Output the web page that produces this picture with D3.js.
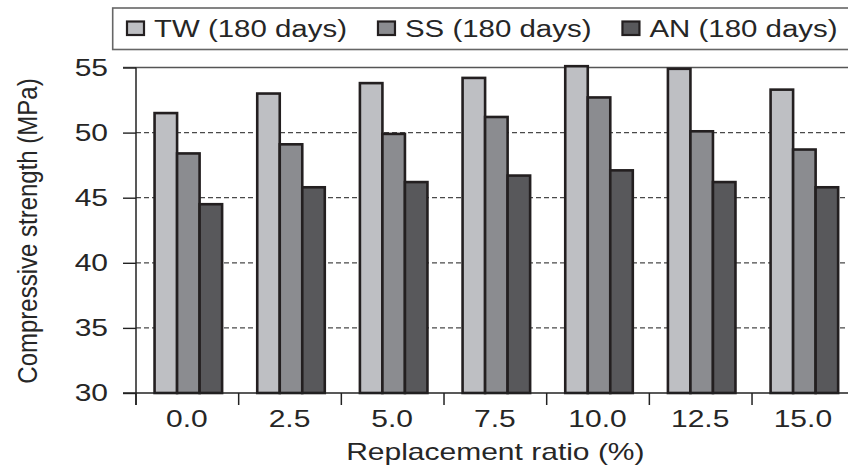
<!DOCTYPE html>
<html>
<head>
<meta charset="utf-8">
<script src="https://cdn.jsdelivr.net/npm/d3@7"></script>
<style>
  html, body { margin: 0; padding: 0; background: #fff; }
  svg { display: block; }
  text { font-family: "Liberation Sans", Arial, Helvetica, sans-serif; fill: #262626; }
</style>
</head>
<body>
<svg id="chart" width="848" height="468"></svg>
<script>
// ---- data ----
const categories = ["0.0", "2.5", "5.0", "7.5", "10.0", "12.5", "15.0"];
const seriesNames = ["TW (180 days)", "SS (180 days)", "AN (180 days)"];
const twValues = [51.5, 53.0, 53.8, 54.2, 55.1, 54.9, 53.3];
const ssValues = [48.4, 49.1, 49.9, 51.2, 52.7, 50.1, 48.7];
const anValues = [44.5, 45.8, 46.2, 46.7, 47.1, 46.2, 45.8];
const yTickValues = [30, 35, 40, 45, 50, 55];
const xTitle = "Replacement ratio (%)";
const yTitle = "Compressive strength (MPa)";

// ---- layout / style ----
const W = 848, H = 468;
const plot = { left: 136, right: 854.7, top: 67.5, bottom: 393 };
const colors = ["#bebfc3", "#8b8c90", "#58585b"];
const barStroke = "#231f20";
const SX = 1.25; // horizontal stretch of the original artwork's text

const svg = d3.select("#chart");

const series = [twValues, ssValues, anValues];
const rows = categories.map((c, i) => ({ cat: c, vals: series.map((s, k) => ({ key: seriesNames[k], value: s[i], k })) }));

const x = d3.scaleBand().domain(categories).range([plot.left, plot.right]).paddingInner(0).paddingOuter(0);
const xs = d3.scaleBand().domain(seriesNames).range([0, x.bandwidth()]).paddingInner(0).paddingOuter(0.78);
const y = d3.scaleLinear().domain([30, 55]).range([plot.bottom, plot.top]);

function stretchedText(sel, px, py, sx) {
  return sel.attr("x", 0).attr("y", 0).attr("transform", `translate(${px},${py}) scale(${sx},1)`);
}

// gridlines (dashed)
svg.append("g").selectAll("line")
  .data(yTickValues.filter(v => v > 30 && v < 55))
  .join("line")
  .attr("x1", plot.left).attr("x2", W)
  .attr("y1", d => y(d)).attr("y2", d => y(d))
  .attr("stroke", "#4a4a4a").attr("stroke-width", 1.2)
  .attr("stroke-dasharray", "5,3");

// top frame line at 55
svg.append("line")
  .attr("x1", plot.left - 13).attr("x2", W)
  .attr("y1", y(55)).attr("y2", y(55))
  .attr("stroke", "#555").attr("stroke-width", 1.6);

// bars
const groups = svg.append("g").selectAll("g")
  .data(rows).join("g")
  .attr("transform", d => `translate(${x(d.cat) + 1},0)`);

groups.selectAll("rect")
  .data(d => d.vals).join("rect")
  .attr("x", d => xs(d.key))
  .attr("width", xs.bandwidth())
  .attr("y", d => y(d.value))
  .attr("height", d => y(30) - y(d.value))
  .attr("fill", d => colors[d.k])
  .attr("stroke", barStroke)
  .attr("stroke-width", 2.6);

// y axis (ticks on left)
const yAxis = svg.append("g")
  .attr("transform", `translate(${plot.left},0)`)
  .call(d3.axisLeft(y).tickValues(yTickValues).tickSize(13).tickFormat(""));
yAxis.select(".domain").remove();
yAxis.selectAll("line").attr("stroke", "#222").attr("stroke-width", 1.4);

svg.append("line")
  .attr("x1", plot.left).attr("x2", plot.left)
  .attr("y1", y(55)).attr("y2", plot.bottom + 12)
  .attr("stroke", "#222").attr("stroke-width", 1.5);

// y tick labels
svg.append("g").selectAll("text")
  .data(yTickValues).join("text")
  .attr("text-anchor", "end")
  .style("font-size", "24px")
  .text(d => d)
  .each(function (d) { stretchedText(d3.select(this), 108, y(d) + 8, SX); });

// x axis line
svg.append("line")
  .attr("x1", plot.left - 13).attr("x2", W)
  .attr("y1", plot.bottom).attr("y2", plot.bottom)
  .attr("stroke", "#222").attr("stroke-width", 1.6);

// x ticks at band boundaries
svg.append("g").selectAll("line")
  .data(categories).join("line")
  .attr("x1", d => x(d)).attr("x2", d => x(d))
  .attr("y1", plot.bottom).attr("y2", plot.bottom + 12)
  .attr("stroke", "#222").attr("stroke-width", 1.5);

// x tick labels
svg.append("g").selectAll("text")
  .data(categories).join("text")
  .attr("text-anchor", "middle")
  .style("font-size", "24px")
  .text(d => d)
  .each(function (d) { stretchedText(d3.select(this), x(d) + x.bandwidth() / 2 - 0.5, 427, SX); });

// axis titles
stretchedText(svg.append("text").attr("text-anchor", "middle").style("font-size", "24px").text(xTitle),
  (plot.left + plot.right) / 2, 460, SX);

svg.append("text")
  .attr("text-anchor", "middle")
  .style("font-size", "24px")
  .attr("x", 0).attr("y", 0)
  .attr("transform", `translate(37,${231}) rotate(-90) scale(1,1.18)`)
  .text(yTitle);

// legend
svg.append("rect")
  .attr("x", 112.7).attr("y", 8).attr("width", W + 20 - 112.7).attr("height", 41.5)
  .attr("fill", "#fff").attr("stroke", "#666").attr("stroke-width", 1.6);

const legend = svg.append("g");
let lx = 127;
seriesNames.forEach((name, k) => {
  legend.append("rect")
    .attr("x", lx).attr("y", 21.5).attr("width", 17).attr("height", 13.5)
    .attr("fill", colors[k]).attr("stroke", barStroke).attr("stroke-width", 2.2);
  const t = legend.append("text").style("font-size", "23px").text(name);
  stretchedText(t, lx + 27, 36.5, 1.28);
  const w = t.node().getComputedTextLength() * 1.28;
  lx = lx + 27 + w + 31;
});
</script>
</body>
</html>
